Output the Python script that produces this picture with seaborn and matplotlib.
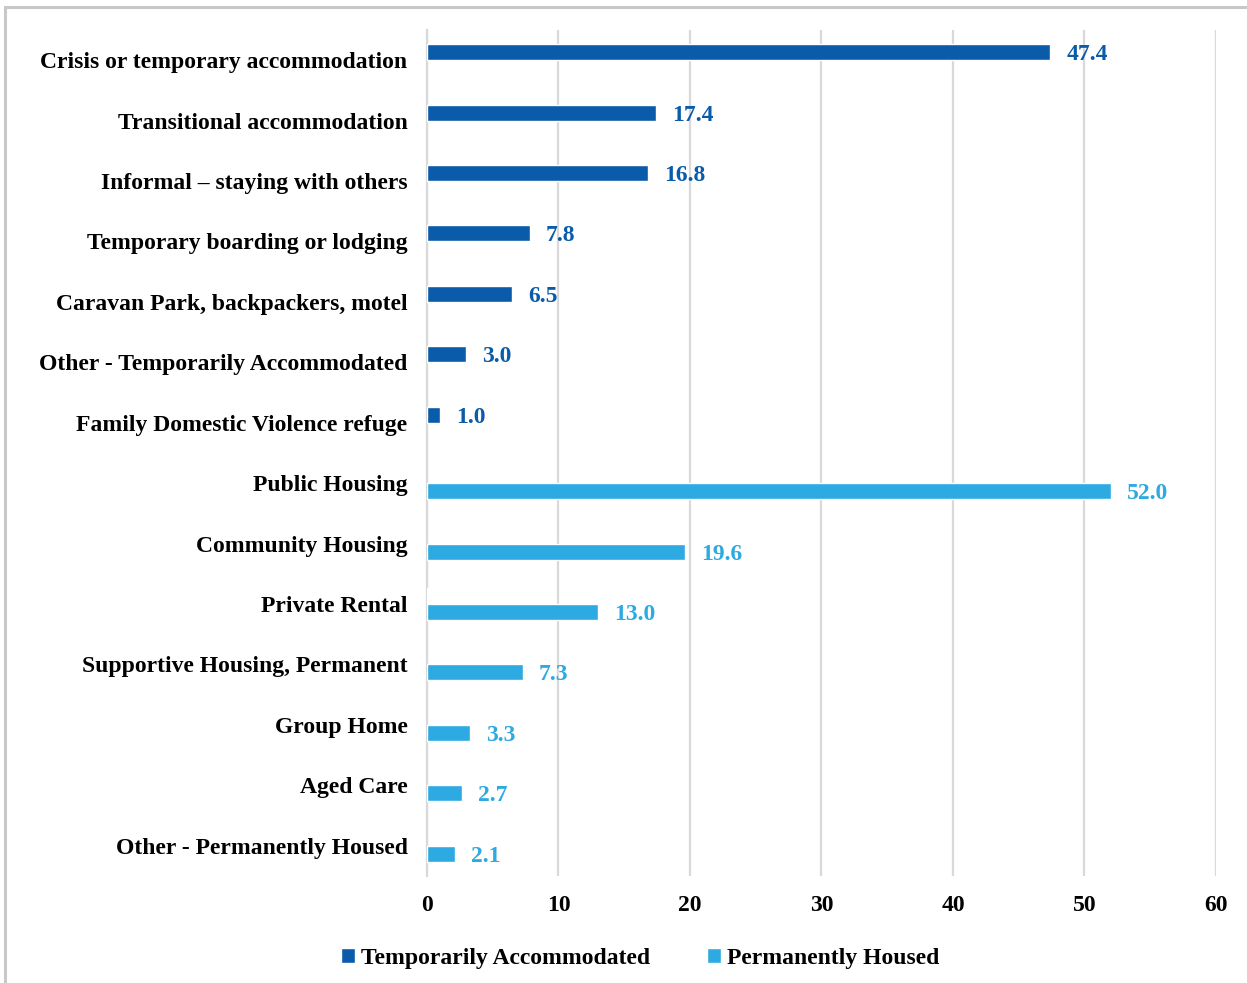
import pandas as pd
import matplotlib.pyplot as plt
import seaborn as sns
from matplotlib.patches import Rectangle

categories = [
    "Crisis or temporary accommodation",
    "Transitional accommodation",
    "Informal \u2013 staying with others",
    "Temporary boarding or lodging",
    "Caravan Park, backpackers, motel",
    "Other - Temporarily Accommodated",
    "Family Domestic Violence refuge",
    "Public Housing",
    "Community Housing",
    "Private Rental",
    "Supportive Housing, Permanent",
    "Group Home",
    "Aged Care",
    "Other - Permanently Housed",
]
series = ["Temporarily Accommodated", "Permanently Housed"]

temp_cats = categories[:7] + ["Private Rental"]
temp_vals = [47.4, 17.4, 16.8, 7.8, 6.5, 3.0, 1.0, 0.1]
perm_cats = categories[7:]
perm_vals = [52.0, 19.6, 13.0, 7.3, 3.3, 2.7, 2.1]

colors = ["#0A5BAA", "#2CAAE1"]
x_ticks = [0, 10, 20, 30, 40, 50, 60]

df = pd.concat([
    pd.DataFrame({"category": temp_cats, "group": series[0], "value": temp_vals}),
    pd.DataFrame({"category": perm_cats, "group": series[1], "value": perm_vals}),
])

sns.set_style("white")
plt.rcParams["font.family"] = ["Liberation Serif", "DejaVu Serif"]
plt.rcParams["font.weight"] = "bold"
plt.rcParams["text.color"] = "black"
plt.rcParams["xtick.color"] = "black"
plt.rcParams["ytick.color"] = "black"

fig = plt.figure(figsize=(12.47, 9.83), dpi=100)
ax = fig.add_axes([0.3424, 0.1089, 0.6327, 0.8606])

sns.barplot(data=df, y="category", x="value", hue="group", order=categories,
            hue_order=series, palette=colors, orient="h", width=0.53,
            gap=0, saturation=1, ax=ax, zorder=3)

for cont, col in zip(ax.containers, colors):
    labels = ax.bar_label(cont, fmt=lambda v: f"{v:.1f}" if v >= 0.5 else "",
                          padding=11.5, color=col, fontsize=17, fontweight="bold")
    for t in labels:
        t.set_va("center_baseline")

ax.set_xlim(0, 60)
ax.set_xticks(x_ticks)
ax.set_xticklabels([str(t) for t in x_ticks], fontsize=17, fontweight="bold")
ax.tick_params(axis="x", length=0, pad=14)
ax.tick_params(axis="y", length=0, pad=14, labelsize=17)
for lbl in ax.get_yticklabels():
    lbl.set_fontweight("bold")
ax.set_xlabel("")
ax.set_ylabel("")
ax.xaxis.grid(True, color="#d9d9d9", linewidth=1.6, zorder=0)
ax.set_axisbelow(True)
for s in ["top", "right", "bottom"]:
    ax.spines[s].set_visible(False)
ax.spines["left"].set_color("#d9d9d9")
ax.spines["left"].set_linewidth(1.6)
ax.spines["left"].set_zorder(1)

ax.legend(loc="upper center", bbox_to_anchor=(0.27, -0.06), ncol=2, frameon=False,
          handlelength=0.6, handleheight=0.6, handletextpad=0.25,
          columnspacing=2.4, prop={"weight": "bold", "size": 17})

fig.add_artist(Rectangle((5 / 1247, -0.1), 1.2, 1.1 - 7 / 983, transform=fig.transFigure,
                         fill=False, edgecolor="#c8c8c8", linewidth=2.2))

fig.savefig("out.png", dpi=100)
